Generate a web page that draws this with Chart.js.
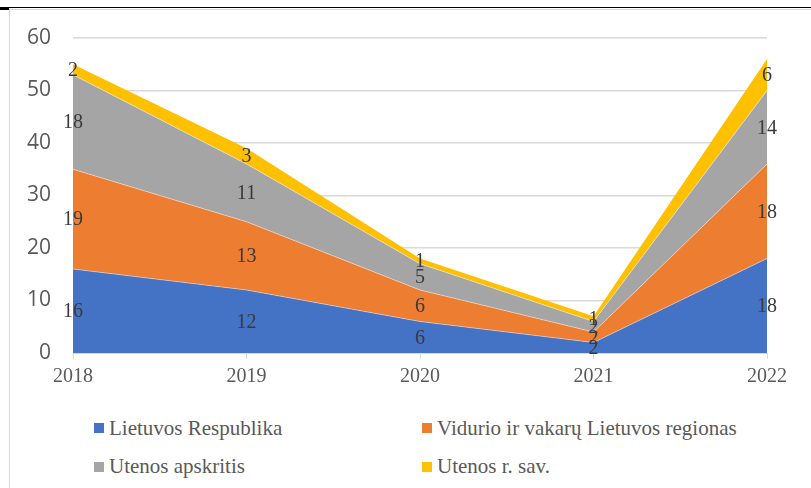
<!DOCTYPE html>
<html>
<head>
<meta charset="utf-8">
<script src="https://cdn.jsdelivr.net/npm/chart.js@4/dist/chart.umd.min.js"></script>
<style>
  html, body { margin: 0; padding: 0; background: #fff; }
  body { width: 811px; height: 488px; position: relative; overflow: hidden; }
  #topline { position: absolute; left: 0; top: 7px; width: 811px; height: 1px; background: #000; }
  #topleft { position: absolute; left: 0; top: 8px; width: 9px; height: 2px; background: #000; }
  #frame { position: absolute; left: 9px; top: 9px; width: 820px; height: 500px; border-left: 1px solid #d9d9d9; border-top: 1px solid #d9d9d9; }
  #chart { position: absolute; left: 0; top: 0; }
  .lg-box { position: absolute; width: 10px; height: 10px; }
  .lg-text { position: absolute; font-family: "Liberation Serif", serif; font-size: 21px; line-height: 24px; color: #595959; white-space: nowrap; }
</style>
</head>
<body>
<div id="topline"></div>
<div id="topleft"></div>
<div id="frame"></div>
<canvas id="chart" width="811" height="400"></canvas>
<div id="legend"></div>
<script>
// ---- data ----
const categories = ["2018", "2019", "2020", "2021", "2022"];
const seriesNames = ["Lietuvos Respublika", "Vidurio ir vakarų Lietuvos regionas", "Utenos apskritis", "Utenos r. sav."];
const lietuvosRespublika = [16, 12, 6, 2, 18];
const viduriolrVakaru = [19, 13, 6, 2, 18];
const utenosApskritis = [18, 11, 5, 2, 14];
const utenosRSav = [2, 3, 1, 1, 6];
const yTicks = [0, 10, 20, 30, 40, 50, 60];

const seriesValues = [lietuvosRespublika, viduriolrVakaru, utenosApskritis, utenosRSav];
const colors = ["#4472C4", "#ED7D31", "#A5A5A5", "#FFC000"];

const datasets = seriesNames.map((name, i) => ({
  label: name,
  data: seriesValues[i],
  backgroundColor: colors[i],
  borderColor: "rgba(255,255,255,0.55)",
  borderWidth: i === 3 ? 0 : 0.8,
  fill: i === 0 ? "origin" : "-1",
  pointRadius: 0,
  tension: 0
}));

const labelPlugin = {
  id: "bandLabels",
  afterDatasetsDraw(chart) {
    const ctx = chart.ctx;
    const yScale = chart.scales.y;
    ctx.save();
    ctx.font = "20px 'Liberation Serif', serif";
    ctx.fillStyle = "#3a3a3a";
    ctx.textAlign = "center";
    ctx.textBaseline = "middle";
    const n = categories.length;
    for (let j = 0; j < n; j++) {
      let cum = 0;
      for (let i = 0; i < seriesValues.length; i++) {
        const v = seriesValues[i][j];
        const meta = chart.getDatasetMeta(i);
        const x = meta.data[j].x;
        const y = yScale.getPixelForValue(cum + v / 2);
        ctx.fillText(String(v), x, y + 1);
        cum += v;
      }
    }
    ctx.restore();
  }
};

new Chart(document.getElementById("chart"), {
  type: "line",
  data: { labels: categories, datasets },
  plugins: [labelPlugin],
  options: {
    responsive: false,
    animation: false,
    layout: { padding: { top: 38, right: 44, left: 0, bottom: 0 } },
    plugins: { legend: { display: false }, tooltip: { enabled: false } },
    scales: {
      x: {
        type: "category",
        offset: false,
        grid: { drawOnChartArea: false, drawTicks: true, tickLength: 6, color: "#d9d9d9" },
        border: { color: "#d9d9d9", width: 1 },
        ticks: { color: "#595959", font: { family: "'Liberation Serif', serif", size: 20 }, padding: 6, maxRotation: 0 },
        afterFit(s) { s.height = 47; }
      },
      y: {
        stacked: true,
        min: 0,
        max: 60,
        afterBuildTicks(s) { s.ticks = yTicks.map(v => ({ value: v })); },
        grid: { color: "#d9d9d9", drawTicks: false, lineWidth: 1.5 },
        border: { display: false },
        ticks: { color: "#595959", font: { family: "'Open Sans', sans-serif", size: 21 }, padding: 22 },
        afterFit(s) { s.width = 73; }
      }
    }
  }
});

// ---- legend (HTML text) ----
const legendPos = [
  { bx: 94, by: 423, tx: 109, ty: 416 },
  { bx: 422, by: 423, tx: 437, ty: 416 },
  { bx: 94, by: 462, tx: 109, ty: 454 },
  { bx: 422, by: 462, tx: 437, ty: 454 }
];
const lg = document.getElementById("legend");
seriesNames.forEach((name, i) => {
  const p = legendPos[i];
  const b = document.createElement("div");
  b.className = "lg-box";
  b.style.left = p.bx + "px"; b.style.top = p.by + "px"; b.style.background = colors[i];
  const t = document.createElement("div");
  t.className = "lg-text";
  t.style.left = p.tx + "px"; t.style.top = p.ty + "px";
  t.textContent = name;
  lg.appendChild(b); lg.appendChild(t);
});
</script>
</body>
</html>
